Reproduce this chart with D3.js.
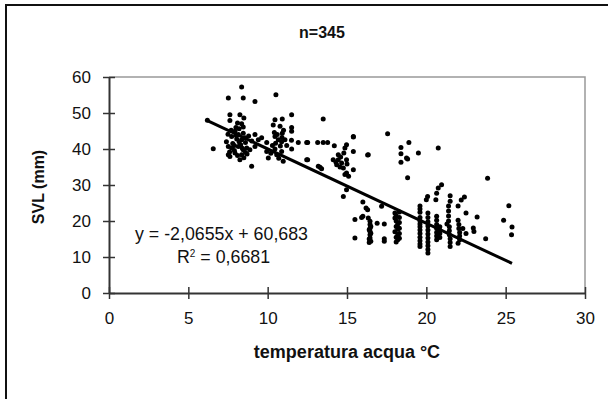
<!DOCTYPE html>
<html>
<head>
<meta charset="utf-8">
<script src="https://cdn.jsdelivr.net/npm/d3@7"></script>
<style>
  body { margin: 0; background: #fff; }
  svg text { font-family: "Liberation Sans", Arial, sans-serif; fill: #111; }
</style>
</head>
<body>
<svg id="svg" width="608" height="399"></svg>
<script>
// temperatura acqua (°C), SVL (mm)
var points = [
  [6.2,48.0],[6.57,40.1],[7.52,54.2],[8.36,57.2],[8.46,54.2],[9.2,53.2],
  [7.62,49.5],[8.25,49.5],[7.62,47.9],[8.36,47.0],[8.46,46.1],
  [7.94,44.9],[8.15,44.0],[8.46,44.4],[7.73,43.5],[8.05,42.8],
  [8.36,42.6],[8.57,43.1],[9.2,44.0],[9.41,42.6],[9.62,43.1],
  [7.52,40.7],[7.73,40.3],[8.15,40.7],[8.46,39.8],[8.68,40.3],
  [7.52,38.4],[7.94,38.9],[8.36,38.4],[7.62,37.9],[8.25,37.0],
  [8.88,39.8],[9.2,40.7],[8.99,35.2],[7.4,42.0],[7.8,41.5],
  [8.0,46.0],[8.3,41.2],[8.6,41.8],[7.9,39.6],[8.1,38.2],
  [8.5,37.6],[8.7,38.6],[7.7,45.2],[8.2,45.6],[9.0,42.2],
  [7.5,44.1],[8.8,43.6],[8.0,43.8],[8.4,40.2],[7.6,39.2],
  [8.1,47.2],[8.5,48.6],[7.9,41.0],[8.2,42.0],[8.6,39.0],
  [10.52,55.1],[11.51,49.5],[10.46,48.1],[10.92,48.3],[10.35,46.7],
  [10.78,46.3],[11.51,46.0],[11.51,44.9],[10.42,44.6],[10.92,44.4],
  [10.46,43.5],[10.67,42.6],[10.88,42.0],[11.09,42.6],[9.94,39.3],
  [10.04,37.5],[10.46,40.0],[10.57,38.4],[10.88,39.3],[11.51,40.0],
  [10.98,36.6],[12.46,37.0],[11.93,41.8],[12.46,41.8],[9.94,41.8],
  [10.3,41.0],[10.6,44.0],[10.8,40.8],[11.0,45.2],[10.5,41.6],
  [11.2,41.0],[10.7,37.4],[10.2,38.8],[11.5,42.4],[10.9,43.2],
  [12.52,41.8],[13.15,41.8],[13.5,41.8],[13.78,41.8],[13.5,48.3],
  [14.2,40.9],[15.4,43.3],[14.97,41.2],[14.87,40.3],[15.4,39.3],
  [12.52,37.0],[14.45,38.4],[14.13,37.0],[14.45,37.0],[14.35,35.6],
  [14.66,36.1],[14.97,37.0],[14.56,35.0],[14.77,34.7],[15.4,34.25],
  [16.3,38.3],[13.19,35.2],[13.4,34.5],[14.97,33.3],[15.1,32.4],
  [15.4,43.5],[14.87,32.9],[14.97,28.7],[14.77,26.8],[16.0,25.3],
  [16.3,23.1],[17.18,24.1],[16.34,38.4],[17.56,44.25],[14.6,37.8],
  [14.3,36.4],[15.0,35.8],[14.8,38.9],[13.3,34.9],
  [15.5,20.4],[15.92,21.0],[16.34,20.8],[16.45,19.9],[16.45,19.0],
  [16.45,18.0],[16.45,17.1],[16.45,16.2],[16.45,15.3],[16.5,14.4],
  [15.5,15.3],[17.35,19.2],[17.35,15.1],[17.35,14.4],[16.0,21.3],
  [16.4,14.0],[16.5,16.6],[16.4,17.6],[16.5,18.5],[16.9,19.4],
  [16.2,23.6],[16.4,15.0],
  [18.02,22.2],[18.1,21.5],[18.02,20.8],[18.1,20.0],[18.2,19.2],
  [18.1,18.5],[18.2,17.7],[18.02,17.0],[18.2,16.2],[18.1,15.5],
  [18.2,14.8],[18.3,22.5],[18.3,21.0],[18.3,19.6],[18.3,18.0],
  [18.3,16.5],[18.3,15.2],[18.1,14.2],[18.82,32.0],[18.4,38.7],
  [18.4,36.3],[18.82,37.2],[18.9,41.8],[18.75,37.5],[19.5,38.9],[18.4,40.4],
  [19.6,24.2],[19.6,23.3],[19.6,22.4],[19.6,21.0],[19.6,20.0],
  [19.6,19.2],[19.6,18.4],[19.6,17.5],[19.6,16.5],[19.6,15.5],
  [19.6,14.5],[19.6,13.6],[19.6,12.9],
  [20.1,22.2],[20.1,21.0],[20.1,19.8],[20.1,18.6],[20.1,17.5],
  [20.1,16.4],[20.1,15.3],[20.1,14.2],[20.1,13.1],[20.1,12.1],
  [20.1,11.1],[20.08,26.8],[20.0,25.9],
  [20.75,40.3],[20.96,30.1],[20.75,29.2],[20.65,27.7],[20.6,25.9],
  [20.65,21.3],[20.65,20.2],[20.65,19.0],[20.65,17.9],[20.65,16.8],
  [20.65,15.8],[20.65,14.8],[20.85,18.4],[20.85,17.4],[20.85,16.5],[20.85,15.4],
  [21.5,27.0],[21.5,25.5],[21.4,24.2],[21.4,22.8],[21.4,21.4],
  [21.4,20.0],[21.45,18.4],[21.45,17.3],[21.45,16.2],[21.5,15.1],
  [21.5,14.0],[21.5,12.9],[21.3,19.2],
  [22.0,24.2],[22.4,26.7],[22.2,25.8],[22.5,22.2],[22.0,20.2],
  [22.05,19.0],[22.05,17.9],[22.1,16.8],[22.1,15.8],[22.1,14.8],
  [22.3,17.9],[22.5,16.5],[22.0,13.8],
  [23.2,21.1],[22.96,18.05],[23.0,17.1],[23.74,15.1],[23.86,31.9],
  [25.2,24.25],[24.87,20.2],[25.4,18.3],[25.37,16.2]
];
var trend = [-2.0655, 60.683];   // slope, intercept
var xTicks = [0, 5, 10, 15, 20, 25, 30];
var yTicks = [0, 10, 20, 30, 40, 50, 60];

var svg = d3.select("#svg");
var plotL = 109, plotR = 585, plotT = 77, plotB = 293;

var x = d3.scaleLinear().domain([0, 30]).range([plotL, plotR]);
var y = d3.scaleLinear().domain([0, 60]).range([plotB, plotT]);

// outer frame
svg.append("rect")
  .attr("x", 6).attr("y", 5).attr("width", 700).attr("height", 500)
  .attr("fill", "none").attr("stroke", "#111").attr("stroke-width", 2);

// plot area border (top + right)
svg.append("path")
  .attr("d", "M" + plotL + "," + plotT + "H" + plotR + "V" + plotB)
  .attr("fill", "none").attr("stroke", "#999").attr("stroke-width", 1.5);

var xAxis = svg.append("g")
  .attr("transform", "translate(0," + plotB + ")")
  .call(d3.axisBottom(x).tickValues(xTicks).tickSizeInner(6).tickSizeOuter(0).tickPadding(13));
var yAxis = svg.append("g")
  .attr("transform", "translate(" + plotL + ",0)")
  .call(d3.axisLeft(y).tickValues(yTicks).tickSizeInner(6).tickSizeOuter(0).tickPadding(12));

[xAxis, yAxis].forEach(function(g) {
  g.select(".domain").attr("stroke", "#333").attr("stroke-width", 2);
  g.selectAll(".tick line").attr("stroke", "#333").attr("stroke-width", 1.5);
  g.selectAll(".tick text").style("font-size", "17px").attr("fill", "#222");
});
// ticks cross the axis line
xAxis.selectAll(".tick line").attr("y1", -6).attr("y2", 6);
yAxis.selectAll(".tick line").attr("x1", -6).attr("x2", 6);

// points
svg.append("g").selectAll("circle").data(points).enter()
  .append("circle")
  .attr("cx", function(d) { return x(d[0]); })
  .attr("cy", function(d) { return y(d[1]); })
  .attr("r", 2.5)
  .attr("fill", "#000");

// linear trend line over the data range
var ext = d3.extent(points, function(d) { return d[0]; });
svg.append("line")
  .attr("x1", x(ext[0])).attr("y1", y(trend[0] * ext[0] + trend[1]))
  .attr("x2", x(ext[1])).attr("y2", y(trend[0] * ext[1] + trend[1]))
  .attr("stroke", "#000").attr("stroke-width", 3);

// equation
svg.append("text")
  .attr("x", 135).attr("y", 240)
  .style("font-size", "17.8px")
  .text("y = -2,0655x + 60,683");
var r2 = svg.append("text")
  .attr("x", 177).attr("y", 263)
  .style("font-size", "17.8px");
r2.append("tspan").text("R");
r2.append("tspan").attr("dy", -6).style("font-size", "10px").text("2");
r2.append("tspan").attr("dy", 6).text(" = 0,6681");

// titles
svg.append("text")
  .attr("x", 322).attr("y", 38)
  .attr("text-anchor", "middle")
  .style("font-size", "16px").style("font-weight", "bold")
  .text("n=345");
svg.append("text")
  .attr("x", 347).attr("y", 358)
  .attr("text-anchor", "middle")
  .style("font-size", "18px").style("font-weight", "bold")
  .text("temperatura acqua °C");
svg.append("text")
  .attr("transform", "translate(44,187) rotate(-90)")
  .attr("text-anchor", "middle")
  .style("font-size", "16px").style("font-weight", "bold")
  .text("SVL (mm)");
</script>
</body>
</html>
